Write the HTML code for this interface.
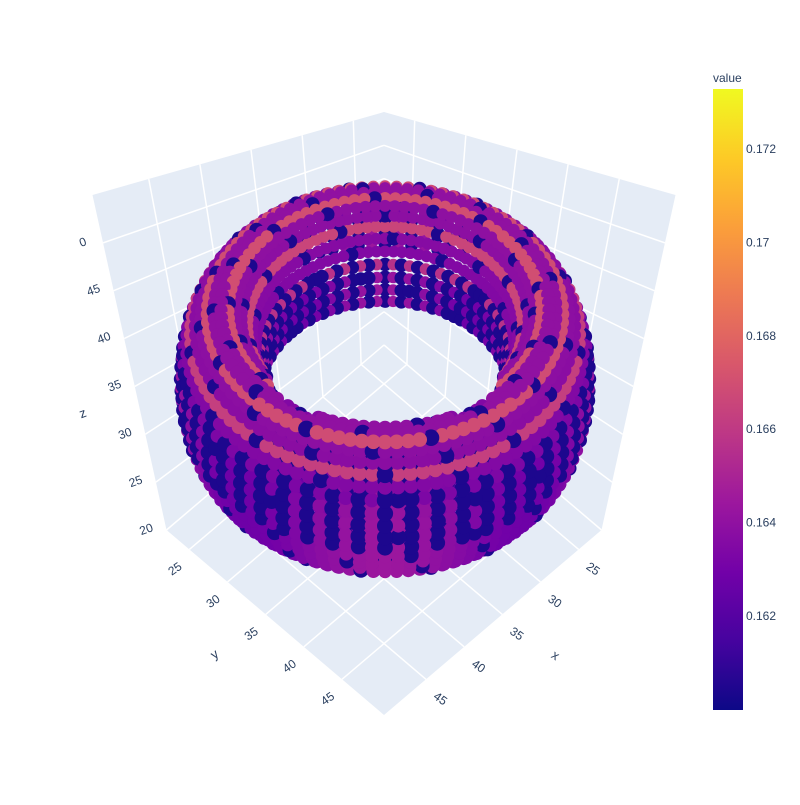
<!DOCTYPE html>
<html><head><meta charset="utf-8">
<style>
html,body{margin:0;padding:0;background:#fff;}
svg text{font-family:"Liberation Sans",sans-serif;fill:#2a3f5f;}
</style></head>
<body>
<svg id="chart" width="800" height="800" viewBox="0 0 800 800" xmlns="http://www.w3.org/2000/svg">
<defs>
<linearGradient id="plasma" x1="0" y1="1" x2="0" y2="0">
<stop offset="0" stop-color="#0d0887"/><stop offset="0.111" stop-color="#46039f"/>
<stop offset="0.222" stop-color="#7201a8"/><stop offset="0.333" stop-color="#9c179e"/>
<stop offset="0.444" stop-color="#bd3786"/><stop offset="0.556" stop-color="#d8576b"/>
<stop offset="0.667" stop-color="#ed7953"/><stop offset="0.778" stop-color="#fb9f3a"/>
<stop offset="0.889" stop-color="#fdca26"/><stop offset="1" stop-color="#f0f921"/>
</linearGradient>
</defs>
<g id="scene"></g>
<g id="points"></g>
<g id="colorbar">
<text x="713" y="82" font-size="12">value</text>
<rect x="713" y="89" width="30" height="621" fill="url(#plasma)"/>
</g>
</svg>
<script>
const xTicks=[25,30,35,40,45];
const yTicks=[25,30,35,40,45];
const zTicks=[20,25,30,35,40,45,50];
const zTickLabels=['20','25','30','35','40','45','0'];
const cbTicks=[0.162,0.164,0.166,0.168,0.17,0.172];
const cbLabels=['0.162','0.164','0.166','0.168','0.17','0.172'];
const xRange=[22,50.5], yRange=[22,50.5], zRange=[20,55];
const cbRange=[0.15998,0.17329];
const torusR=164, tubeRh=40, tubeRv=100;
const ringSteps=96, tubeSteps=36;
const holeRx=118, holeRy=47;

const NS='http://www.w3.org/2000/svg';
function mk(tag,attrs,parent){const e=document.createElementNS(NS,tag);for(const k in attrs)e.setAttribute(k,attrs[k]);parent.appendChild(e);return e;}
function proj(a,b,c){const cx=384, cy=530-335*c, hw=217.5+74*c, hd=185-102*c;return [cx-(a-b)*hw, cy+(a+b)*hd];}
const ax=v=>(v-xRange[0])/(xRange[1]-xRange[0])-0.5;
const ay=v=>(v-yRange[0])/(yRange[1]-yRange[0])-0.5;
const az=v=>(v-zRange[0])/(zRange[1]-zRange[0]);
const scene=document.getElementById('scene');
function poly(pts,name){const e=mk('polygon',{points:pts.map(p=>p.join(',')).join(' '),fill:'#E5ECF6',stroke:'none'},scene);

}
poly([proj(.5,-.5,0),proj(-.5,-.5,0),proj(-.5,-.5,1),proj(.5,-.5,1)],'left-wall');
poly([proj(-.5,.5,0),proj(-.5,-.5,0),proj(-.5,-.5,1),proj(-.5,.5,1)],'right-wall');
poly([proj(.5,-.5,0),proj(.5,.5,0),proj(-.5,.5,0),proj(-.5,-.5,0)],'floor');
function line(p,q,name){const e=mk('line',{x1:p[0],y1:p[1],x2:q[0],y2:q[1],stroke:'#fff','stroke-width':1.5},scene);

}
xTicks.forEach(t=>{const a=ax(t);line(proj(a,-.5,0),proj(a,-.5,1),'x-gridline-wall');line(proj(a,-.5,0),proj(a,.5,0),'x-gridline-floor');});
yTicks.forEach(t=>{const b=ay(t);line(proj(-.5,b,0),proj(-.5,b,1),'y-gridline-wall');line(proj(-.5,b,0),proj(.5,b,0),'y-gridline-floor');});
zTicks.forEach(t=>{const c=az(t);line(proj(.5,-.5,c),proj(-.5,-.5,c),'z-gridline-left');line(proj(-.5,.5,c),proj(-.5,-.5,c),'z-gridline-right');});
function label(txt,p,rot,name,size){const e=mk('text',{x:p[0],y:p[1],'font-size':size||12,'text-anchor':'middle','dominant-baseline':'middle',transform:`rotate(${rot} ${p[0]} ${p[1]})`},scene);e.textContent=txt;

}
xTicks.forEach(t=>{const p=proj(ax(t),.5,0);label(String(t),[p[0]+14,p[1]+20],35,'x-tick-label');});
yTicks.forEach(t=>{const p=proj(.5,ay(t),0);label(String(t),[p[0]-14,p[1]+20],-35,'y-tick-label');});
zTicks.forEach((t,i)=>{const p=proj(.5,-.5,az(t));label(zTickLabels[i],[p[0]-20,p[1]],-20,'z-tick-label');});
label('x',[555,656],35,'x-axis-title',13);
label('y',[215,655],-35,'y-axis-title',13);
label('z',[83,414],-20,'z-axis-title',13);
const cb=document.getElementById('colorbar');
cbTicks.forEach((t,i)=>{const y=710-(t-cbRange[0])/(cbRange[1]-cbRange[0])*621;const e=mk('text',{x:746,y:y+4,'font-size':12},cb);e.textContent=cbLabels[i];

});
const stops=['#0d0887','#46039f','#7201a8','#9c179e','#bd3786','#d8576b','#ed7953','#fb9f3a','#fdca26','#f0f921'].map(h=>[1,3,5].map(i=>parseInt(h.substr(i,2),16)));
function plasma(v){let t=(v-cbRange[0])/(cbRange[1]-cbRange[0]);t=Math.max(0,Math.min(1,t))*9;const i=Math.min(8,Math.floor(t)),f=t-i;const c=stops[i].map((x,k)=>Math.round(x+(stops[i+1][k]-x)*f));return `rgb(${c})`;}
const sinP=0.72, cosP=0.69, CX=385, CY=379;
const pts=[];
for(let i=0;i<ringSteps;i++){const th=i/ringSteps*2*Math.PI;
 for(let j=0;j<tubeSteps;j++){const ps=j/tubeSteps*2*Math.PI;
  const rho=torusR+tubeRh*Math.cos(ps);const u=rho*Math.cos(th), v=rho*Math.sin(th), w=tubeRv*Math.sin(ps);
  const X=CX+u, Y=CY+v*sinP-w*cosP, d=v*cosP+w*sinP;
  const ex=(X-CX)/holeRx, ey=(Y-CY)/holeRy;
  if(ex*ex+ey*ey<1) continue;
  if(v<-30 && Math.sin(ps)<-0.3) continue;
  const s=Math.max(0,Math.sin(ps));
  let val=0.1636+0.0008*Math.cos(4*th)*(1-s);
  if(s>0.3 && j%3===1) val=0.1650+0.002*s;
  else if(s>0.3) val=0.1630+0.001*s;
  if((i*7+j*13)%11===0 || (Math.abs(Math.cos(ps))>0.92 && i%2===0)) val=0.1604;
  pts.push({X,Y,d,val,j});
 }}
pts.sort((p,q)=>p.d-q.d);
const g=document.getElementById('points');
pts.forEach(p=>{const r=6.2+p.d*0.006+((p.val<0.1606)?1.0:0);
 const c=mk('circle',{cx:p.X.toFixed(1),cy:p.Y.toFixed(1),r:r.toFixed(1),fill:plasma(p.val)},g);
 
 });
</script>
</body></html>
